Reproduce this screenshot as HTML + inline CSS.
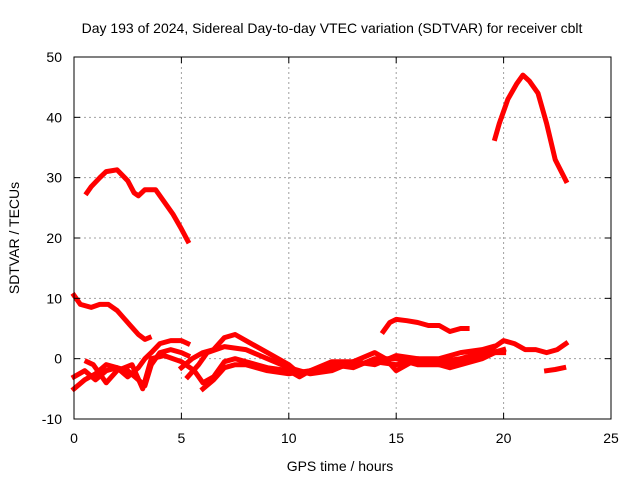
<!DOCTYPE html>
<html><head><meta charset="utf-8"><style>
body{margin:0;background:#fff}
svg{display:block;font-family:"Liberation Sans",sans-serif}
</style></head><body>
<svg id="chart" width="640" height="480" viewBox="0 0 640 480">
<rect width="640" height="480" fill="#fff"/>
<g id="grid"></g>
<g id="series"></g>
<rect x="74" y="57" width="537" height="362" fill="none" stroke="#000" stroke-width="1"/>
<g id="ticks"></g>
<text x="332" y="33" text-anchor="middle" font-size="14">Day 193 of 2024, Sidereal Day-to-day VTEC variation (SDTVAR) for receiver cblt</text>
<text x="340" y="471" text-anchor="middle" font-size="14">GPS time / hours</text>
<text transform="translate(19,238) rotate(-90)" text-anchor="middle" font-size="14">SDTVAR / TECUs</text>
</svg>
<script>
const xTicks=[0,5,10,15,20,25];
const yTicks=[-10,0,10,20,30,40,50];
const sA_t=[0.6,0.8,1.2,1.5,2,2.5,2.8,3,3.3,3.8,4.2,4.6,5,5.3];
const sA_v=[27.5,28.5,30,31,31.3,29.5,27.5,27,28,28,26,24,21.5,19.5];
const sB_t=[19.6,19.8,20.2,20.6,20.9,21.2,21.6,22,22.4,22.9];
const sB_v=[36.5,39,43,45.5,47,46,44,39,33,29.5];
const sC_t=[0,0.3,0.8,1.2,1.6,2,2.5,3,3.3,3.5];
const sC_v=[10.5,9,8.5,9,9,8,6,4,3.2,3.5];
const sD_t=[14.4,14.7,15,15.5,16,16.5,17,17.5,18,18.3];
const sD_v=[4.5,6,6.5,6.3,6,5.5,5.5,4.5,5,5];
const sE_t=[19.2,20,20.5,21,21.5,22,22.5,22.9];
const sE_v=[1,3,2.5,1.5,1.5,1,1.5,2.5];
const sS_t=[22,22.4,22.8];
const sS_v=[-2,-1.8,-1.5];
const sF_t=[0,0.5,1,1.5,2,2.5,3,3.3,3.6,4,4.5,5,5.3];
const sF_v=[-3,-2,-3.5,-2,-1.5,-2,-3.5,-4.5,-1,1,1.5,1,0.5];
const sG_t=[0,0.5,1,1.5,2,2.5,3,3.3,3.6,4,4.5,5,5.3];
const sG_v=[-5,-3.5,-2.5,-1,-1.5,-3,-1.5,0,1,2.5,3,3,2.5];
const sH_t=[0.6,0.9,1.2,1.5,2,2.7,3.2,3.6,4.2,5,5.6,6,6.5,7,7.5,8,9,10,10.5,11,12,13,14,15,16,17,18,19,20];
const sH_v=[-0.5,-1,-2.5,-4,-2,-1,-5,0,0.5,-0.5,-2,-4,-3,-0.5,0,-0.5,-1.5,-2,-3,-2,-1.5,-1,-0.5,-1,-0.5,-0.5,0,1,1];
const sI_t=[5,5.5,6,6.5,7,7.5,8,8.5,9,10,10.5,11,12,13,14,15,16,17,18,19,20];
const sI_v=[-1.5,0,1,1.5,3.5,4,3,2,1,-1,-2.5,-2,-1,-1.5,0,0,-1,-1,-0.5,0.5,1.5];
const sJ_t=[5.3,5.8,6.2,7,8,9,10,11,12,13,14,14.5,15,15.5,16,17,17.5,18,19,19.6];
const sJ_v=[-3,-1,1,2,1.5,0,-1.5,-2.5,-2,-0.5,1,0,-2,-1,0,-1,-1.5,-1,0,1];
const sK_t=[6,6.5,7,7.5,8,9,10,11,12,13,14,15,16,17,18,19,19.5];
const sK_v=[-5,-3.5,-1.5,-1,-1,-2,-2.5,-2,-0.5,-0.5,-1,0.5,0,0,1,1.5,2];
const seriesList=[[sA_t,sA_v],[sB_t,sB_v],[sC_t,sC_v],[sD_t,sD_v],[sE_t,sE_v],[sS_t,sS_v],[sF_t,sF_v],[sG_t,sG_v],[sH_t,sH_v],[sI_t,sI_v],[sJ_t,sJ_v],[sK_t,sK_v]];
const X0=74,X1=611,Y0=419,Y1=57;
const xs=t=>X0+(t-0)/25*(X1-X0);
const ys=v=>Y0-(v+10)/60*(Y0-Y1);
const NS="http://www.w3.org/2000/svg";
const grid=document.getElementById('grid'),ticks=document.getElementById('ticks'),ser=document.getElementById('series');
function mk(tag,attrs,parent){const e=document.createElementNS(NS,tag);for(const k in attrs)e.setAttribute(k,attrs[k]);parent.appendChild(e);return e;}
xTicks.forEach(t=>{const x=xs(t);
 if(t>0&&t<25){const l=mk('line',{x1:x,x2:x,y1:Y1,y2:Y0,stroke:'#a0a0a0','stroke-dasharray':'2,3'},grid);
 
 }
 mk('line',{x1:x,x2:x,y1:Y0,y2:Y0-6,stroke:'#000'},ticks);
 mk('line',{x1:x,x2:x,y1:Y1,y2:Y1+6,stroke:'#000'},ticks);
 const tx=mk('text',{x:x,y:Y0+24,'text-anchor':'middle','font-size':'14'},ticks);tx.textContent=t;
 
 
});
yTicks.forEach(v=>{const y=ys(v);
 if(v>-10&&v<50){const l=mk('line',{x1:X0,x2:X1,y1:y,y2:y,stroke:'#a0a0a0','stroke-dasharray':'2,3'},grid);
 
 }
 mk('line',{x1:X0,x2:X0+6,y1:y,y2:y,stroke:'#000'},ticks);
 mk('line',{x1:X1,x2:X1-6,y1:y,y2:y,stroke:'#000'},ticks);
 const tx=mk('text',{x:X0-12,y:y+5,'text-anchor':'end','font-size':'14'},ticks);tx.textContent=v;
 
 
});
seriesList.forEach(([t,v])=>{
 const pts=t.map((h,i)=>xs(h).toFixed(1)+','+ys(v[i]).toFixed(1)).join(' ');
 const p=mk('polyline',{points:pts,fill:'none',stroke:'#ff0000','stroke-width':'5','stroke-linejoin':'round','stroke-linecap':'square'},ser);
 
 
});
</script>
</body></html>
